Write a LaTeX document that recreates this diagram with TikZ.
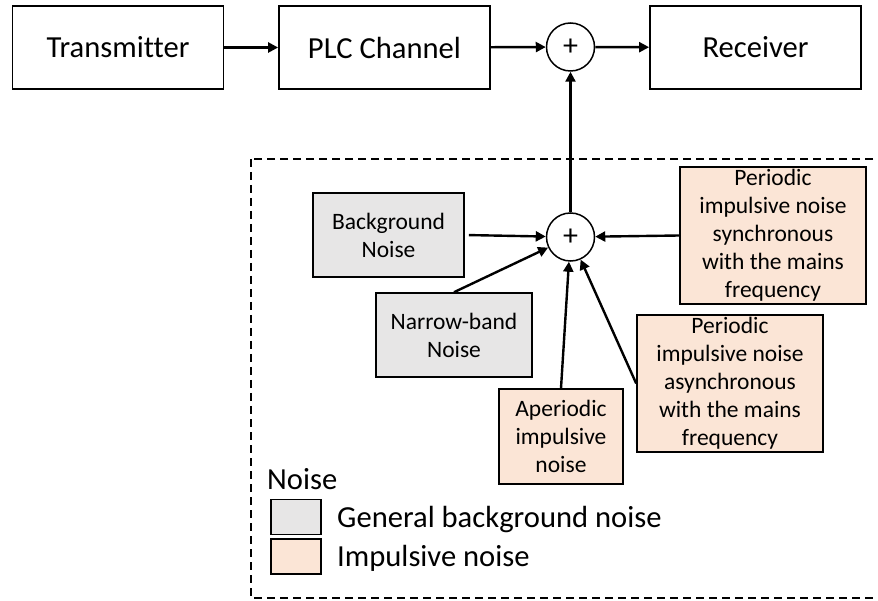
\documentclass[tikz,border=0pt]{standalone}
\usepackage{fontspec}
\setmainfont[Ligatures=NoCommon]{Carlito}
\usetikzlibrary{arrows.meta}

\definecolor{bggray}{HTML}{E7E6E6}
\definecolor{imppeach}{HTML}{FBE5D6}

\begin{document}
\begin{tikzpicture}[x=1pt,y=-1pt,
  blk/.style={draw, line width=1.8pt, minimum width=211pt, minimum height=83pt,
    inner sep=0pt, font=\fontsize{30.6}{36}\selectfont},
  sumnode/.style={draw, circle, line width=1.5pt, minimum size=48pt, inner sep=0pt,
    font=\fontsize{30}{32}\selectfont},
  noisebox/.style={draw, line width=1.6pt, inner sep=0pt, align=center,
    font=\fontsize{23.5}{28}\selectfont},
  bgnoise/.style={noisebox, fill=bggray},
  impnoise/.style={noisebox, fill=imppeach},
  arr/.style={line width=2.4pt, -{Triangle[length=10pt,width=10pt]}},
  legtext/.style={anchor=base west, inner sep=0pt, font=\fontsize{30.6}{36}\selectfont},
  legbox/.style={draw, line width=1.6pt, minimum width=50pt, minimum height=35pt, inner sep=0pt}
]
\useasboundingbox (0,0) rectangle (878,601);
\clip (0,0) rectangle (878,601);

% transmission chain
\node[blk] (tx)   at (118,47.5)   {Transmitter};
\node[blk] (ch)   at (384.5,47.5) {PLC Channel};
\node[sumnode] (sum1) at (570.5,47) {+};
\node[blk] (rx)   at (755.5,47.5) {Receiver};

% noise region
\draw[line width=1.6pt, dash pattern=on 8pt off 5pt] (251,159) rectangle (890,598);

\node[sumnode] (sum2) at (570.5,237) {+};

\node[bgnoise, minimum width=151pt, minimum height=84pt] (bg) at (388.5,235)
  {Background\\Noise};
\node[bgnoise, minimum width=156pt, minimum height=84pt] (nb) at (454,335)
  {Narrow-band\\Noise};
\node[impnoise, minimum width=124pt, minimum height=95pt] (ap) at (561,436.5)
  {Aperiodic\\impulsive\\noise};
\node[impnoise, minimum width=186pt, minimum height=137pt] (sy) at (773,235.5)
  {Periodic\\impulsive noise\\synchronous\\with the mains\\frequency};
\node[impnoise, minimum width=186pt, minimum height=137pt] (as) at (730,383.5)
  {Periodic\\impulsive noise\\asynchronous\\with the mains\\frequency};

% connectors
\draw[arr] (tx) -- (ch);
\draw[arr] (ch) -- (sum1);
\draw[arr] (sum1) -- (rx);
\draw[arr] (sum2) -- (sum1);
\draw[arr, shorten <=4pt] (bg.east) -- (sum2);
\draw[arr] (nb.north) -- (sum2);
\draw[arr] (ap.north) -- (sum2);
\draw[arr] (as.west) -- (sum2);
\draw[arr] (sy.west) -- (sum2);

% legend
\node[legtext] (legtitle) at (267,489) {Noise};
\node[legbox, fill=bggray] (leg1) at (296,517) {};
\node[legbox, fill=imppeach] (leg2) at (296,556.5) {};
\node[legtext] (leg1t) at (337,527) {General background noise};
\node[legtext] (leg2t) at (337,566.5) {Impulsive noise};
\end{tikzpicture}
\end{document}
